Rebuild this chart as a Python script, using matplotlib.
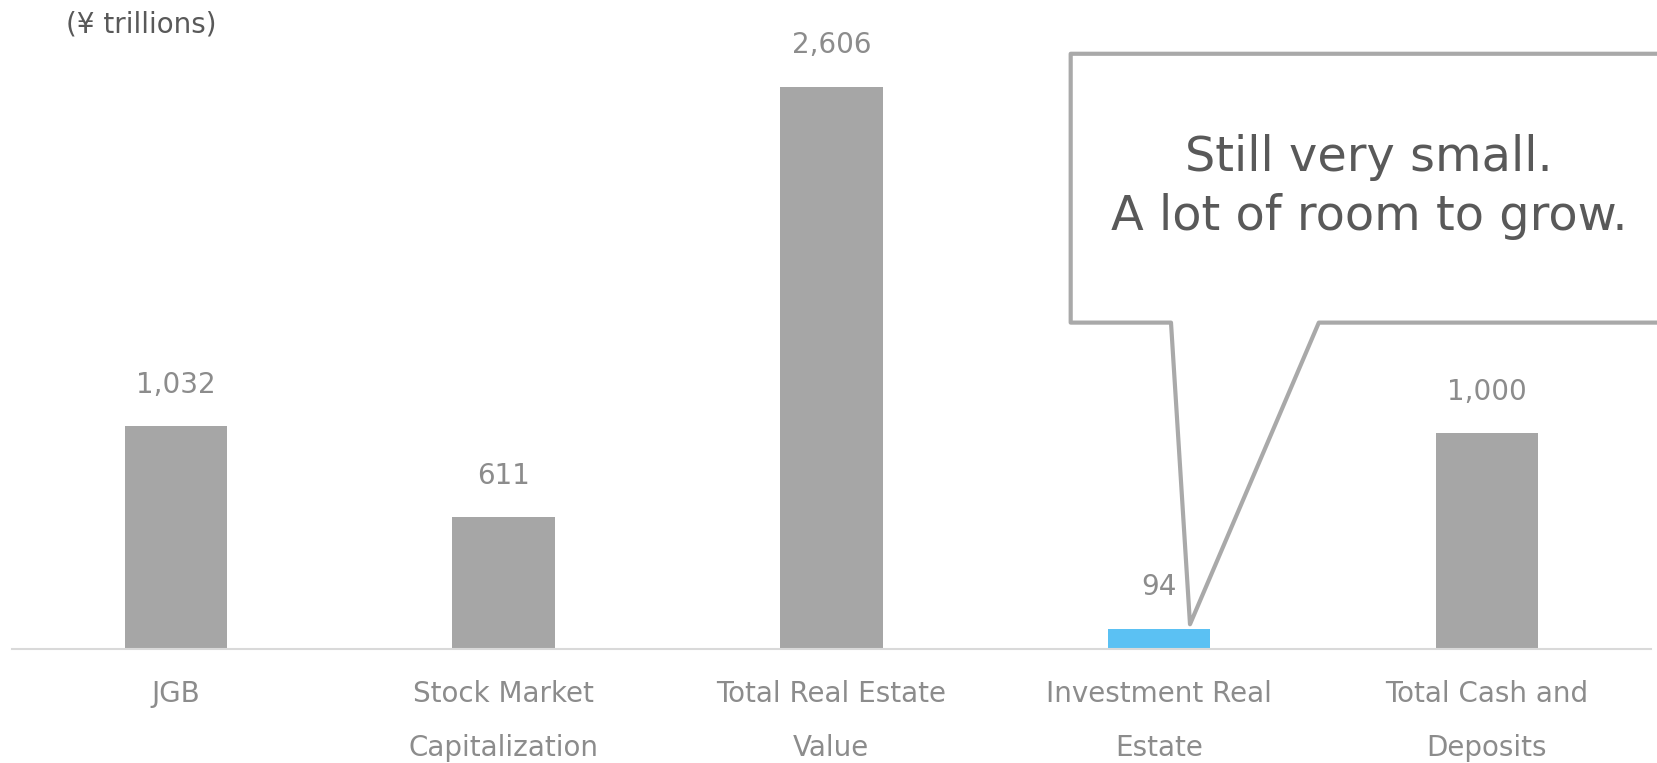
import matplotlib
matplotlib.use("Agg")
import matplotlib.pyplot as plt
from matplotlib.patches import Polygon

# Market size comparison, in trillions of yen
categories = ["JGB", "Stock Market\nCapitalization", "Total Real Estate\nValue",
              "Investment Real\nEstate", "Total Cash and\nDeposits"]
values = [1032, 611, 2606, 94, 1000]
highlight = 3  # the bar the callout points at

callout_text = "Still very small.\nA lot of room to grow."
unit_text = "(¥ trillions)"

GREY = "#a6a6a6"
BLUE = "#5bc1f3"
LABEL_GREY = "#8c8c8c"
DARK = "#595959"

plt.rcParams['font.family'] = ['DejaVu Sans']

fig = plt.figure(figsize=(16.58, 7.63), dpi=100)
ax = fig.add_axes([0.0072, 0.149, 0.9885, 0.851])

x = list(range(len(values)))
colors = [BLUE if i == highlight else GREY for i in x]
bars = ax.bar(x, values, width=0.313, color=colors, zorder=2)

# value labels above each bar
for i, v in enumerate(values):
    ax.annotate(f"{v:,}", (i, v), xytext=(0, 30), textcoords="offset points",
                ha="center", va="center", fontsize=20, color=LABEL_GREY)

ax.set_xlim(-0.5, len(values) - 0.5)
ax.set_ylim(0, 3007)
ax.set_yticks([])
ax.set_xticks(x)
ax.set_xticklabels(categories, fontsize=20, color=LABEL_GREY, linespacing=2.2)
ax.tick_params(axis="x", length=0, pad=22)
for side in ["top", "right", "left"]:
    ax.spines[side].set_visible(False)
ax.spines["bottom"].set_color("#d9d9d9")
ax.spines["bottom"].set_linewidth(1.5)

# speech-bubble callout pointing at the highlighted bar
tip_x, tip_y = highlight + 0.094, values[highlight] + 22
box_l, box_r = highlight - 0.27, highlight + 1.7
box_b, box_t = 1513, 2758
base_l, base_r = highlight + 0.036, highlight + 0.487
bubble = Polygon([(box_l, box_t), (box_r, box_t), (box_r, box_b), (base_r, box_b),
                  (tip_x, tip_y), (base_l, box_b), (box_l, box_b)],
                 closed=True, facecolor="white", edgecolor="#a9a9a9",
                 linewidth=3, joinstyle="round", clip_on=False, zorder=3)
ax.add_patch(bubble)
ax.text(highlight + 0.64, 2141, callout_text, ha="center",
        va="center", fontsize=34.5, color=DARK, linespacing=1.35, zorder=4)

fig.text(66 / 1658, 1 - 24 / 763, unit_text, ha="left", va="center",
         fontsize=20, color=DARK)

fig.savefig("out.png", dpi=100)
